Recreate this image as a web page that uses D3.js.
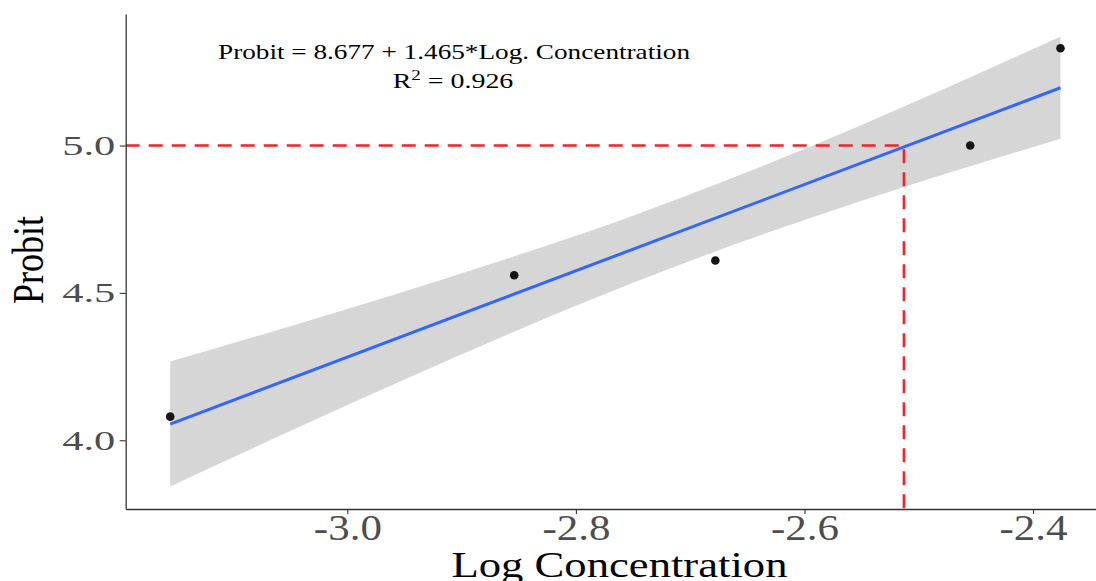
<!DOCTYPE html>
<html>
<head>
<meta charset="utf-8">
<script src="https://cdn.jsdelivr.net/npm/d3@7"></script>
<style>
    body { margin: 0; background: #ffffff; }
    svg { display: block; }
</style>
</head>
<body>
<svg id="chart"></svg>
<script>

// observed points (log concentration, probit)
var logConc = [-3.155, -2.854, -2.678, -2.455, -2.376];
var probit = [4.08, 4.56, 4.61, 5.00, 5.33];

// confidence band
var bandX = [-3.155, -3.05, -2.95, -2.85, -2.75, -2.65, -2.55, -2.45, -2.376];
var bandLower = [3.843, 4.031, 4.206, 4.375, 4.534, 4.680, 4.813, 4.936, 5.023];
var bandUpper = [4.267, 4.387, 4.505, 4.629, 4.762, 4.910, 5.070, 5.240, 5.370];

// fitted line, as printed on the chart
var intercept = 8.677;
var slope = 1.465;
var r2 = 0.926;

// probit 5 reference (LC50)
var refProbit = 5.0;
var refLogConc = -2.513;

// axis ticks
var xTicks = [-3.0, -2.8, -2.6, -2.4];
var yTicks = [4.0, 4.5, 5.0];


function drawProbitChart() {
    var width = 1096, height = 581;
    var svg = d3.select('#chart')
        .attr('width', width)
        .attr('height', height);

    // panel box in pixels
    var panel = { left: 125.7, right: 1105, top: 14, bottom: 509 };

    // ggplot style 5% expansion of the data range
    var xExt = d3.extent(bandX.concat(logConc));
    var yExt = d3.extent(bandLower.concat(bandUpper, probit));
    var xPad = (xExt[1] - xExt[0]) * 0.05;
    var yPad = (yExt[1] - yExt[0]) * 0.05;

    var xScale = d3.scaleLinear()
        .domain([xExt[0] - xPad, xExt[1] + xPad])
        .range([panel.left, panel.right]);
    var yScale = d3.scaleLinear()
        .domain([yExt[0] - yPad, yExt[1] + yPad])
        .range([panel.bottom, panel.top]);

    var g = svg.append('g');

    // confidence band
    var band = bandX.map(function (d, i) { return { x: d, lo: bandLower[i], hi: bandUpper[i] }; });
    g.append('path')
        .datum(band)
        .attr('fill', '#d6d6d6')
        .attr('d', d3.area()
            .x(function (d) { return xScale(d.x); })
            .y0(function (d) { return yScale(d.lo); })
            .y1(function (d) { return yScale(d.hi); })
            .curve(d3.curveMonotoneX));

    // regression line over the data range
    var lineX = d3.extent(logConc);
    g.append('path')
        .datum(lineX)
        .attr('fill', 'none')
        .attr('stroke', '#3366ff')
        .attr('stroke-width', 3)
        .attr('d', d3.line()
            .x(function (d) { return xScale(d); })
            .y(function (d) { return yScale(intercept + slope * d); }));

    // points
    g.selectAll('circle')
        .data(logConc)
        .enter()
        .append('circle')
        .attr('cx', function (d) { return xScale(d); })
        .attr('cy', function (d, i) { return yScale(probit[i]); })
        .attr('r', 4.3)
        .attr('fill', '#151515');

    // red dashed guide to probit 5
    g.append('path')
        .attr('fill', 'none')
        .attr('stroke', '#f5222a')
        .attr('stroke-width', 2.6)
        .attr('stroke-dasharray', '14,9')
        .attr('d', 'M' + panel.left + ',' + yScale(refProbit)
            + 'H' + xScale(refLogConc)
            + 'V' + panel.bottom);

    // y axis
    var yAxis = svg.append('g')
        .attr('transform', 'translate(' + panel.left + ',0)')
        .call(d3.axisLeft(yScale)
            .tickValues(yTicks)
            .tickSize(6)
            .tickSizeOuter(0)
            .tickPadding(4.5)
            .tickFormat(function (d) { return d.toFixed(1); }));
    yAxis.selectAll('text')
        .attr('fill', '#4d4d4d')
        .attr('font-family', '"Liberation Serif", "Times New Roman", serif')
        .attr('font-size', '28px')
        .attr('textLength', 53)
        .attr('lengthAdjust', 'spacingAndGlyphs');

    // x axis
    var xAxis = svg.append('g')
        .attr('transform', 'translate(0,' + panel.bottom + ')')
        .call(d3.axisBottom(xScale)
            .tickValues(xTicks)
            .tickSize(5)
            .tickSizeOuter(0)
            .tickPadding(1)
            .tickFormat(function (d) { return d.toFixed(1); }));
    xAxis.selectAll('text')
        .attr('fill', '#4d4d4d')
        .attr('font-family', '"Liberation Serif", "Times New Roman", serif')
        .attr('font-size', '35px')
        .attr('textLength', 68)
        .attr('lengthAdjust', 'spacingAndGlyphs');

    svg.selectAll('.domain, .tick line')
        .attr('stroke', '#333333')
        .attr('stroke-width', 1.3);
    svg.selectAll('.tick line').attr('stroke-width', 1.1);

    // axis titles
    svg.append('text')
        .text('Log Concentration')
        .attr('x', 619.5)
        .attr('y', 576.7)
        .attr('text-anchor', 'middle')
        .attr('font-family', '"Liberation Serif", "Times New Roman", serif')
        .attr('font-size', '36px')
        .attr('textLength', 336)
        .attr('lengthAdjust', 'spacingAndGlyphs')
        .attr('fill', '#000');

    svg.append('text')
        .text('Probit')
        .attr('transform', 'translate(43.3,260) rotate(-90)')
        .attr('text-anchor', 'middle')
        .attr('font-family', '"Liberation Serif", "Times New Roman", serif')
        .attr('font-size', '44px')
        .attr('textLength', 88)
        .attr('lengthAdjust', 'spacingAndGlyphs')
        .attr('fill', '#000');

    // equation annotation
    svg.append('text')
        .text('Probit = ' + intercept.toFixed(3) + ' + ' + slope.toFixed(3) + '*Log. Concentration')
        .attr('x', 454)
        .attr('y', 59.3)
        .attr('text-anchor', 'middle')
        .attr('font-family', '"Liberation Serif", "Times New Roman", serif')
        .attr('font-size', '22px')
        .attr('textLength', 472)
        .attr('lengthAdjust', 'spacingAndGlyphs')
        .attr('fill', '#000');

    var r2Text = svg.append('text')
        .attr('transform', 'translate(453,88.3) scale(1.27,1)')
        .attr('text-anchor', 'middle')
        .attr('font-family', '"Liberation Serif", "Times New Roman", serif')
        .attr('font-size', '22px')
        .attr('fill', '#000');
    r2Text.append('tspan').text('R');
    r2Text.append('tspan').text('2').attr('font-size', '15px').attr('dy', -8);
    r2Text.append('tspan').text(' = ' + r2.toFixed(3)).attr('dy', 8);
}

drawProbitChart();
</script>
</body>
</html>
